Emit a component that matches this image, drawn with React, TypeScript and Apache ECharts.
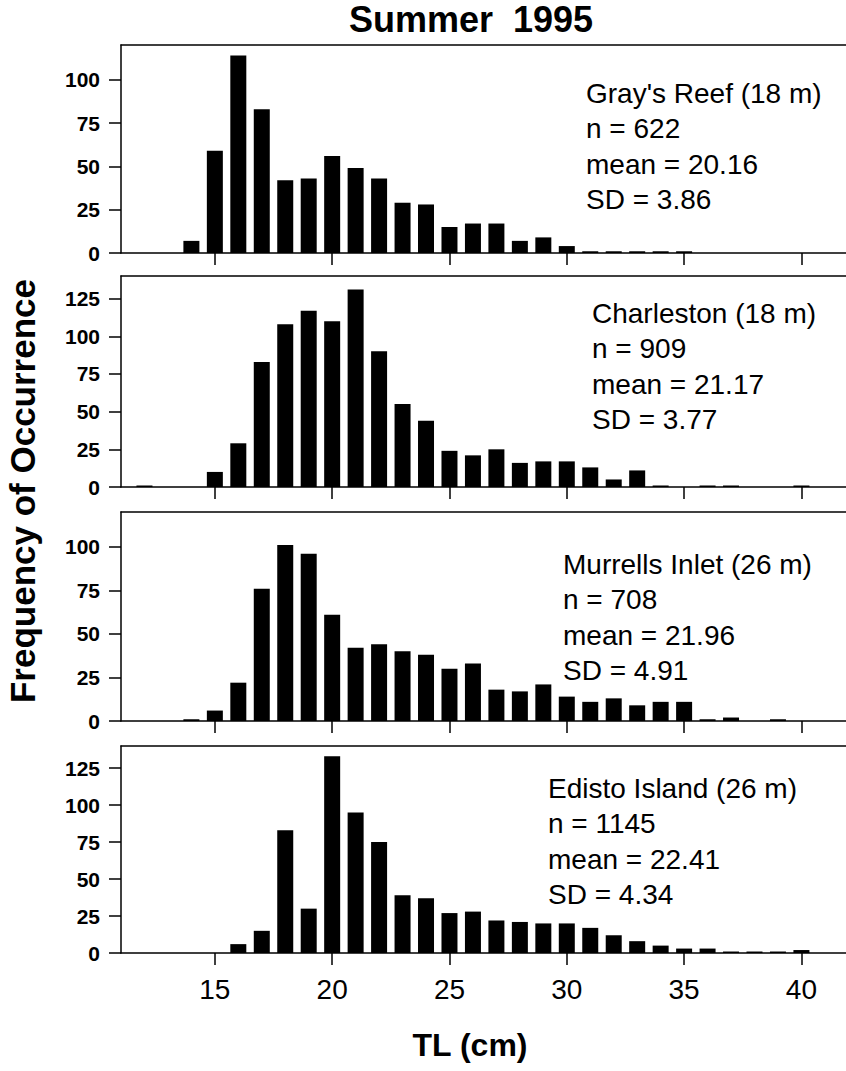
import React, { useEffect, useRef } from 'react';
import * as echarts from 'echarts';

// Total length classes (cm)
const lengths = [12, 13, 14, 15, 16, 17, 18, 19, 20, 21, 22, 23, 24, 25, 26, 27, 28, 29, 30, 31, 32, 33, 34, 35, 36, 37, 38, 39, 40, 41];

const graysReef = [0, 0, 7, 59, 114, 83, 42, 43, 56, 49, 43, 29, 28, 15, 17, 17, 7, 9, 4, 1, 1, 1, 1, 1, 0, 0, 0, 0, 0, 0];
const charleston = [1, 0, 0, 10, 29, 83, 108, 117, 110, 131, 90, 55, 44, 24, 21, 25, 16, 17, 17, 13, 5, 11, 1, 0, 1, 1, 0, 0, 1, 0];
const murrellsInlet = [0, 0, 1, 6, 22, 76, 101, 96, 61, 42, 44, 40, 38, 30, 33, 18, 17, 21, 14, 11, 13, 9, 11, 11, 1, 2, 0, 1, 0, 0];
const edistoIsland = [0, 0, 0, 0, 6, 15, 83, 30, 133, 95, 75, 39, 37, 27, 28, 22, 21, 20, 20, 17, 12, 8, 5, 3, 3, 1, 1, 1, 2, 0];

const siteNames = ["Gray's Reef (18 m)", 'Charleston (18 m)', 'Murrells Inlet (26 m)', 'Edisto Island (26 m)'];
const sampleSizes = ['622', '909', '708', '1145'];
const means = ['20.16', '21.17', '21.96', '22.41'];
const sds = ['3.86', '3.77', '4.91', '4.34'];

const xTickValues = [15, 20, 25, 30, 35, 40];
const yMaxes = [120, 140, 120, 140];
const yTickValues = [
  [0, 25, 50, 75, 100],
  [0, 25, 50, 75, 100, 125],
  [0, 25, 50, 75, 100],
  [0, 25, 50, 75, 100, 125],
];

const titleText = 'Summer  1995';
const yAxisTitle = 'Frequency of Occurrence';
const xAxisTitle = 'TL (cm)';

// layout
const W = 846;
const H = 1071;
const FONT = "'Liberation Sans', Arial, sans-serif";
const panelTops = [45, 276, 512, 746];
const panelHeights = [208, 211, 209, 207];
const textLeft = [586, 592, 563, 548];
const textFirstY = [93, 313, 564, 788];
const lineGap = 35.5;

export default function App() {
  const ref = useRef<HTMLDivElement>(null);

  useEffect(() => {
    if (!ref.current) return;
    const chart = echarts.init(ref.current, undefined, { renderer: 'svg' });
    const seriesData = [graysReef, charleston, murrellsInlet, edistoIsland];

    const grids = panelTops.map((top, i) => ({
      left: 121,
      right: 0,
      top,
      height: panelHeights[i],
      containLabel: false,
      outerBoundsMode: 'none',
    }));

    const bottomAxes = panelTops.map((_, i) => ({
      type: 'value',
      gridIndex: i,
      min: 11,
      max: 41.9,
      position: 'bottom',
      axisLine: { show: true, lineStyle: { color: '#000', width: 1.5 } },
      axisTick: {
        show: true,
        inside: false,
        length: 12,
        customValues: xTickValues,
        lineStyle: { color: '#000', width: 1.5 },
      },
      axisLabel: {
        show: i === 3,
        customValues: xTickValues,
        margin: 22,
        fontSize: 28,
        fontFamily: FONT,
        color: '#000',
      },
      splitLine: { show: false },
    }));

    const topAxes = panelTops.map((_, i) => ({
      type: 'value',
      gridIndex: i,
      min: 11,
      max: 41.9,
      position: 'top',
      axisLine: { show: true, lineStyle: { color: '#000', width: 1.5 } },
      axisTick: { show: false },
      axisLabel: { show: false },
      splitLine: { show: false },
    }));

    const yAxes = panelTops.map((_, i) => ({
      type: 'value',
      gridIndex: i,
      min: 0,
      max: yMaxes[i],
      axisLine: { show: true, lineStyle: { color: '#000', width: 1.5 } },
      axisTick: {
        show: true,
        inside: false,
        length: 12,
        customValues: yTickValues[i],
        lineStyle: { color: '#000', width: 1.5 },
      },
      axisLabel: {
        customValues: yTickValues[i],
        margin: 21,
        fontSize: 21,
        fontWeight: 'bold',
        fontFamily: FONT,
        color: '#000',
      },
      splitLine: { show: false },
    }));

    const series = seriesData.map((vals, i) => ({
      type: 'bar',
      xAxisIndex: i,
      yAxisIndex: i,
      barWidth: 16,
      itemStyle: { color: '#000' },
      data: lengths.map((l, j) => [l, vals[j]]),
    }));

    const graphics: any[] = [];
    panelTops.forEach((_, i) => {
      const lines = [siteNames[i], 'n = ' + sampleSizes[i], 'mean = ' + means[i], 'SD = ' + sds[i]];
      lines.forEach((t, k) => {
        graphics.push({
          type: 'text',
          x: textLeft[i],
          y: textFirstY[i] + k * lineGap,
          style: {
            text: t,
            font: `28px ${FONT}`,
            fill: '#000',
            textAlign: 'left',
            textVerticalAlign: 'middle',
          },
        });
      });
    });
    graphics.push({
      type: 'text',
      x: 471,
      y: 19,
      style: {
        text: titleText,
        font: `bold 36px ${FONT}`,
        fill: '#000',
        textAlign: 'center',
        textVerticalAlign: 'middle',
      },
    });
    graphics.push({
      type: 'text',
      x: 22,
      y: 491,
      rotation: Math.PI / 2,
      style: {
        text: yAxisTitle,
        font: `bold 35px ${FONT}`,
        fill: '#000',
        textAlign: 'center',
        textVerticalAlign: 'middle',
      },
    });
    graphics.push({
      type: 'text',
      x: 470,
      y: 1045,
      style: {
        text: xAxisTitle,
        font: `bold 32px ${FONT}`,
        fill: '#000',
        textAlign: 'center',
        textVerticalAlign: 'middle',
      },
    });

    chart.setOption({
      animation: false,
      backgroundColor: '#fff',
      grid: grids,
      xAxis: [...bottomAxes, ...topAxes],
      yAxis: yAxes,
      series,
      graphic: graphics,
    } as any);

    return () => chart.dispose();
  }, []);

  return (
    <div
      ref={ref}
      style={{ position: 'absolute', left: 0, top: 0, width: W, height: H, background: '#fff' }}
    />
  );
}
